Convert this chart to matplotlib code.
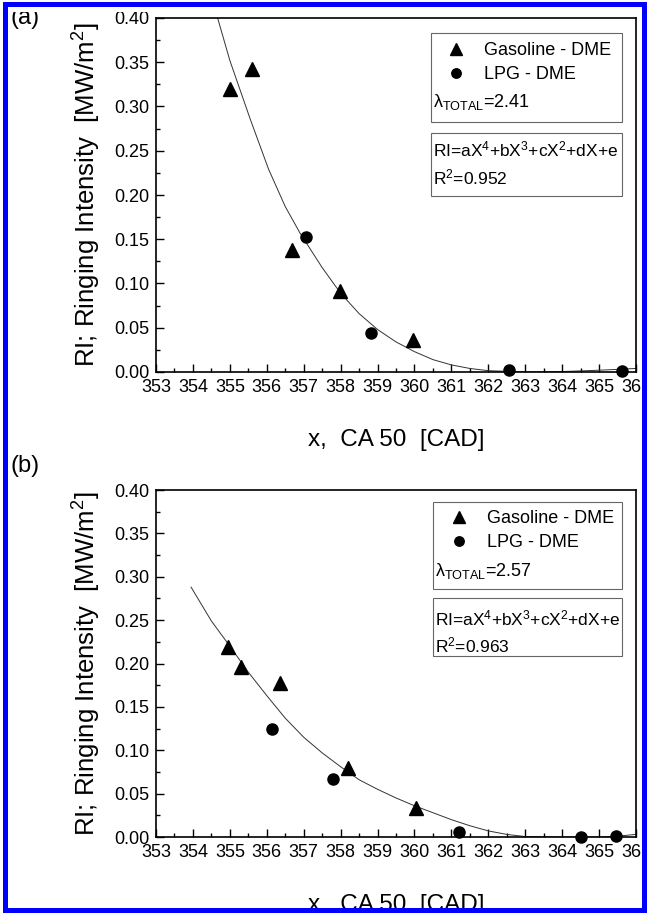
import numpy as np
import matplotlib
matplotlib.use('Agg')
import matplotlib.pyplot as plt
from matplotlib.patches import Rectangle
from matplotlib.ticker import MultipleLocator, FormatStrFormatter

# panel (a): lambda_total = 2.41
a_gas_x = [355.0, 355.6, 356.68, 357.98, 359.95]
a_gas_y = [0.320, 0.342, 0.138, 0.091, 0.036]
a_lpg_x = [357.07, 358.83, 362.57, 365.62]
a_lpg_y = [0.152, 0.044, 0.002, 0.001]
# fitted curve
a_fit_x = [354.6, 355.0, 355.55, 356.05, 356.5, 356.9, 357.5, 358.0, 358.5, 359.0,
           359.5, 360.0, 360.5, 361.0, 361.5, 362.0, 363.0, 364.0, 365.0, 366.0]
a_fit_y = [0.410, 0.352, 0.286, 0.229, 0.187, 0.157, 0.118, 0.089, 0.066, 0.048,
           0.034, 0.023, 0.014, 0.008, 0.004, 0.0015, 0.0, 0.0005, 0.002, 0.004]

# panel (b): lambda_total = 2.57
b_gas_x = [354.95, 355.3, 356.35, 358.2, 360.05]
b_gas_y = [0.219, 0.196, 0.177, 0.079, 0.034]
b_lpg_x = [356.15, 357.8, 361.2, 364.5, 365.45]
b_lpg_y = [0.125, 0.067, 0.006, 0.0005, 0.001]
b_fit_x = [353.95, 354.5, 355.0, 355.5, 356.0, 356.5, 357.0, 357.5, 358.0, 358.5,
           359.0, 359.5, 360.0, 360.5, 361.0, 361.5, 362.0, 362.5, 363.0, 364.0,
           365.0, 365.5, 366.0]
b_fit_y = [0.288, 0.249, 0.220, 0.190, 0.163, 0.137, 0.115, 0.097, 0.081, 0.066,
           0.055, 0.045, 0.036, 0.028, 0.020, 0.013, 0.007, 0.003, 0.0005, 0.0,
           0.0, 0.001, 0.003]

panel_tags = ['(a)', '(b)']
lambda_total = ['2.41', '2.57']
r_squared = ['0.952', '0.963']
series_names = ['Gasoline - DME', 'LPG - DME']

FONT = 'Liberation Sans'
plt.rcParams['font.family'] = [FONT, 'DejaVu Sans']
plt.rcParams['mathtext.fontset'] = 'custom'
plt.rcParams['mathtext.rm'] = FONT
plt.rcParams['mathtext.it'] = FONT
plt.rcParams['mathtext.sf'] = FONT

W, H = 647, 913
fig = plt.figure(figsize=(W / 100, H / 100), dpi=100)


def fx(px):
    return px / W


def fy(py):
    return 1 - py / H


panels = [
    dict(rect=(156, 18, 636, 372), gas=(a_gas_x, a_gas_y), lpg=(a_lpg_x, a_lpg_y),
         fit=(a_fit_x, a_fit_y), tag_y=18, leg=(447, 42), box1=(431, 33, 622, 122),
         lam_y=102, box2=(431, 133, 622, 196), ri_y=(149, 177)),
    dict(rect=(156, 490, 636, 837), gas=(b_gas_x, b_gas_y), lpg=(b_lpg_x, b_lpg_y),
         fit=(b_fit_x, b_fit_y), tag_y=466, leg=(450, 510), box1=(433, 502, 622, 589),
         lam_y=571, box2=(433, 598, 622, 656), ri_y=(618, 645)),
]

for i, p in enumerate(panels):
    l, t, r, b = p['rect']
    ax = fig.add_axes([fx(l), fy(b), (r - l) / W, (b - t) / H])
    ax.plot(p['fit'][0], p['fit'][1], color='#333333', lw=0.7)
    h1, = ax.plot(p['gas'][0], p['gas'][1], ls='none', marker='^', ms=9.5,
                  color='black', label=series_names[0], clip_on=False)
    h2, = ax.plot(p['lpg'][0], p['lpg'][1], ls='none', marker='o', ms=8,
                  color='black', label=series_names[1], clip_on=False)
    ax.set_xlim(353, 366)
    ax.set_ylim(0, 0.40)
    ax.xaxis.set_major_locator(MultipleLocator(1))
    ax.xaxis.set_minor_locator(MultipleLocator(0.5))
    ax.yaxis.set_major_locator(MultipleLocator(0.05))
    ax.yaxis.set_minor_locator(MultipleLocator(0.025))
    ax.yaxis.set_major_formatter(FormatStrFormatter('%.2f'))
    ax.tick_params(which='both', direction='in', top=False, right=False, width=1.0)
    ax.tick_params(which='major', length=6, labelsize=13, pad=5)
    ax.tick_params(which='minor', length=3)
    for s in ax.spines.values():
        s.set_linewidth(1.2)
    ax.set_xlabel('x,  CA 50  [CAD]', fontsize=17.5, labelpad=24)
    ax.set_ylabel('RI; Ringing Intensity  [MW/m$^2$]', fontsize=18.5, labelpad=8)

    lx, ly = p['leg']
    ax.legend(handles=[h1, h2], loc='upper left', bbox_to_anchor=(fx(lx), fy(ly)),
              bbox_transform=fig.transFigure, frameon=False, fontsize=13,
              borderpad=0, borderaxespad=0, handlelength=1.0, handletextpad=1.05,
              labelspacing=0.4, markerscale=0.85)

    for bx in (p['box1'], p['box2']):
        x0, y0, x1, y1 = bx
        fig.patches.append(Rectangle((fx(x0), fy(y1)), (x1 - x0) / W, (y1 - y0) / H,
                                     transform=fig.transFigure, fill=False,
                                     edgecolor='#666666', lw=0.8))
    fig.text(fx(p['box1'][0] + 2), fy(p['lam_y']),
             'λ$_{\\mathrm{TOTAL}}$=' + lambda_total[i], fontsize=13, va='center')
    fig.text(fx(p['box2'][0] + 2), fy(p['ri_y'][0]),
             'RI=aX$^4$+bX$^3$+cX$^2$+dX+e', fontsize=12.5, va='center')
    fig.text(fx(p['box2'][0] + 2), fy(p['ri_y'][1]),
             'R$^2$=' + r_squared[i], fontsize=12.5, va='center')
    fig.text(fx(11), fy(p['tag_y']), panel_tags[i], fontsize=17,
             va='center', ha='left')

# cropped top edge and blue frame
fig.patches.append(Rectangle((0, fy(12)), 1, 12 / H, transform=fig.transFigure,
                             facecolor='white', edgecolor='none', zorder=5))
fig.patches.append(Rectangle((fx(4.5), fy(909.5)), (643.5 - 4.5) / W, (909.5 - 4.5) / H,
                             transform=fig.transFigure, fill=False,
                             edgecolor='#0000ff', lw=3.6, zorder=6))

fig.savefig('out.png', dpi=100)
